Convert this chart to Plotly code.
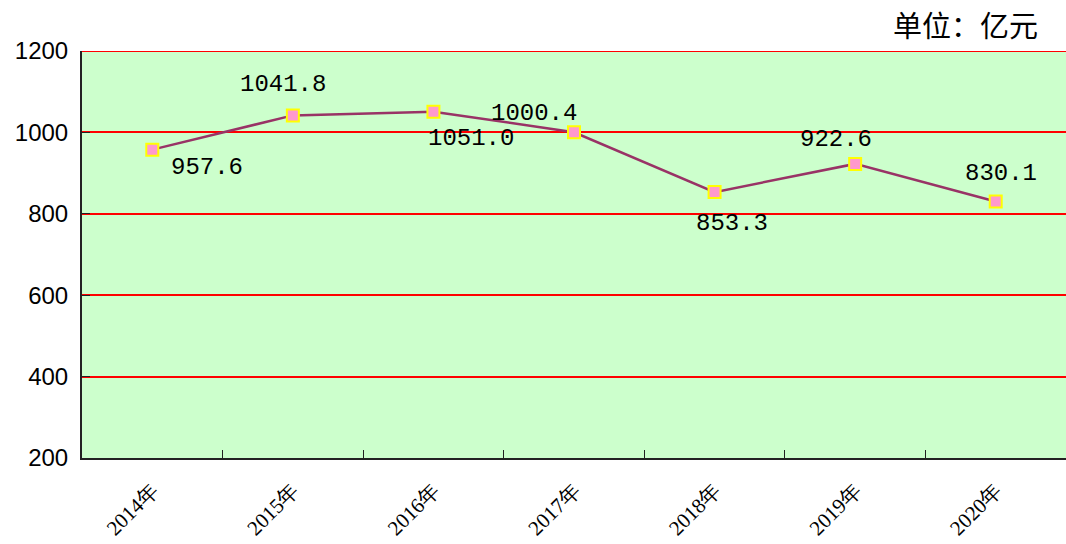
import plotly.graph_objects as go

years = ["2014年", "2015年", "2016年", "2017年", "2018年", "2019年", "2020年"]
values = [957.6, 1041.8, 1051.0, 1000.4, 853.3, 922.6, 830.1]
label_texts = ["957.6", "1041.8", "1051.0", "1000.4", "853.3", "922.6", "830.1"]
# label offsets in pixels (style)
label_dx = [55, -10, 38, -40, 17, -19, 5]
label_dy = [-18, 31, -27, 19, -31, 24, 28]
y_ticks = [200, 400, 600, 800, 1000, 1200]

fig = go.Figure()
fig.add_trace(go.Scatter(
    x=years, y=values, mode="lines+markers",
    line=dict(color="#993366", width=2.5),
    marker=dict(symbol="square", size=12, color="#FF99CC",
                line=dict(color="#FFFF00", width=2)),
    hoverinfo="skip", showlegend=False,
))

for yr, v, t, dx, dy in zip(years, values, label_texts, label_dx, label_dy):
    fig.add_annotation(x=yr, y=v, text=t, showarrow=False,
                       xshift=dx, yshift=dy,
                       font=dict(family="Liberation Mono, DejaVu Sans Mono, monospace",
                                 size=24, color="#000000"))

# top gridline at the max tick
fig.add_shape(type="line", xref="paper", x0=0, x1=1, yref="y",
              y0=y_ticks[-1], y1=y_ticks[-1],
              line=dict(color="#FF0000", width=2), layer="below")

fig.add_annotation(xref="paper", yref="paper", x=1.0, y=1.0, xanchor="right",
                   yanchor="bottom", yshift=4, xshift=-26,
                   text="单位：亿元", showarrow=False,
                   font=dict(family="Noto Sans CJK SC", size=29, color="#000000"))

fig.update_layout(
    width=1066, height=544,
    margin=dict(l=82, r=0, t=51, b=86),
    paper_bgcolor="#FFFFFF", plot_bgcolor="#CCFFCC",
    xaxis=dict(type="category", range=[-0.5, 6.5], tickangle=-45,
               ticks="inside", tickson="boundaries", ticklen=8, tickcolor="#222222",
               showline=True, linecolor="#222222", linewidth=2,
               showgrid=False, zeroline=False, automargin=False,
               ticklabelstandoff=10,
               tickfont=dict(family="Liberation Serif, DejaVu Serif, serif", size=21, color="#000000")),
    yaxis=dict(range=[200, 1200], tickvals=y_ticks,
               ticks="inside", ticklen=8, tickcolor="#222222",
               showline=True, linecolor="#222222", linewidth=2,
               showgrid=True, gridcolor="#FF0000", gridwidth=2,
               zeroline=False, ticklabelstandoff=7, automargin=False,
               tickfont=dict(family="Liberation Sans, DejaVu Sans, sans-serif", size=24, color="#000000")),
)

fig.write_html("out.html", config={"displayModeBar": False},
               post_script="document.body.style.margin='0';")
